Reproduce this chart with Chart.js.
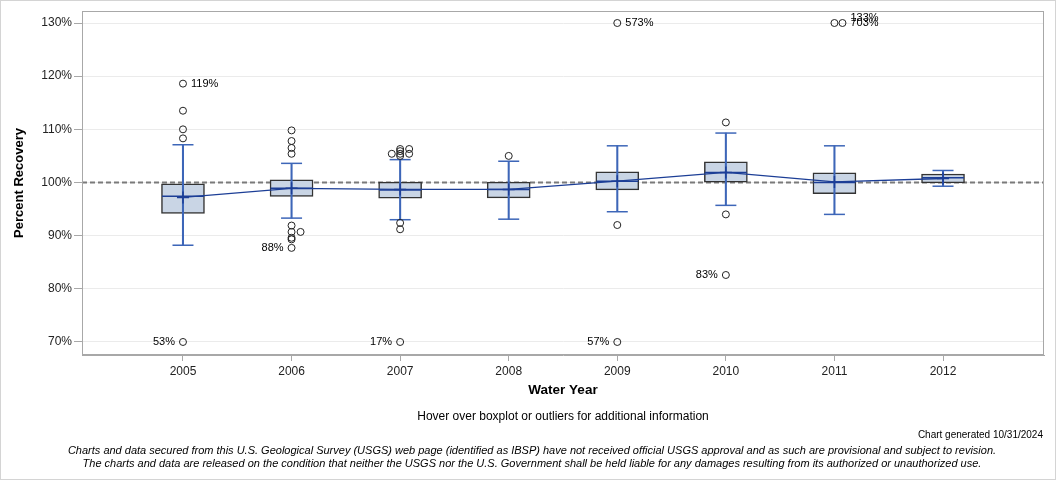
<!DOCTYPE html>
<html>
<head>
<meta charset="utf-8">
<script src="https://cdn.jsdelivr.net/npm/chart.js@4.4.1/dist/chart.umd.min.js"></script>
<style>
  body { margin: 0; background: #fff; font-family: "Liberation Sans", Arial, sans-serif; }
  #wrap { position: relative; width: 1056px; height: 480px; box-sizing: border-box; border: 1px solid #d4d4d4; }
  #chartBox { position: absolute; left: -1px; top: -1px; width: 1056px; height: 480px; }
  .txt { position: absolute; white-space: nowrap; color: #000; }
  #hover { left: 0; width: 1124px; top: 408px; text-align: center; font-size: 12px; }
  #generated { right: 12px; top: 428px; font-size: 10px; }
  #disc1, #disc2 { left: 0; width: 1062px; text-align: center; font-size: 11px; font-style: italic; }
  #disc1 { top: 443px; }
  #disc2 { top: 456px; }
</style>
</head>
<body>
<div id="wrap">
  <div id="chartBox"><canvas id="chartRecovery"></canvas></div>
  <div class="txt" id="hover">Hover over boxplot or outliers for additional information</div>
  <div class="txt" id="generated">Chart generated 10/31/2024</div>
  <div class="txt" id="disc1">Charts and data secured from this U.S. Geological Survey (USGS) web page (identified as IBSP) have not received official USGS approval and as such are provisional and subject to revision.</div>
  <div class="txt" id="disc2">The charts and data are released on the condition that neither the USGS nor the U.S. Government shall be held liable for any damages resulting from its authorized or unauthorized use.</div>
</div>
<script>
/* datos de las cajas por anio */
const years = [2005, 2006, 2007, 2008, 2009, 2010, 2011, 2012];
const q1 = [94.2, 97.4, 97.05, 97.1, 98.6, 100.06, 97.9, 99.94];
const q3 = [99.76, 100.5, 100.06, 100.06, 102.0, 103.9, 101.8, 101.6];
const medians = [97.4, 98.9, 98.6, 98.7, 100.25, 101.9, 100.0, 100.9];
const means = [97.2, 98.9, 98.7, 98.7, 100.25, 101.9, 100.1, 100.75];
const whiskerLow = [88.2, 93.3, 93.0, 93.1, 94.5, 95.7, 94.0, 99.3];
const whiskerHigh = [107.1, 103.6, 104.3, 104.0, 106.9, 109.3, 106.9, 102.26];

/* outliers: posicion x (anio), valor real, etiqueta (si/no) */
const outlierX = [
  2005, 2005, 2005, 2005, 2005,
  2006, 2006, 2006, 2006, 2006, 2006, 2006.083, 2006, 2006, 2006,
  2007, 2007, 2007, 2007, 2006.923, 2007.083, 2007.083, 2007, 2007, 2007,
  2008,
  2009, 2009, 2009,
  2010, 2010, 2010,
  2011, 2011.074,
];
const outlierValue = [
  118.6, 113.5, 110.0, 108.3, 53,
  109.8, 107.8, 106.5, 105.4, 91.9, 90.7, 90.7, 89.6, 89.3, 87.7,
  106.3, 105.9, 105.4, 105.0, 105.4, 106.3, 105.4, 92.4, 91.2, 17,
  105.0,
  92.0, 573, 57,
  111.3, 94.0, 82.6,
  133, 703,
];
const outlierLabeled = [
  true, false, false, false, true,
  false, false, false, false, false, false, false, false, false, true,
  false, false, false, false, false, false, false, false, false, true,
  false,
  false, true, true,
  false, false, true,
  true, true,
];

const yMin = 67.55;
const yMax = 132.26;
const xMin = 2004.07;
const xMax = 2012.93;
const referencia = 100;

const recortar = (v) => Math.min(130, Math.max(70, v));

const azulBigote = "#3d66b8";
const azulMedia = "#1c3e96";

/* plugin: marco del area y etiquetas de outliers */
const marcoEtiquetas = {
  id: "marcoEtiquetas",
  afterDatasetsDraw(chart) {
    const { ctx, chartArea, scales } = chart;
    ctx.save();
    ctx.strokeStyle = "#a8a8a8";
    ctx.lineWidth = 1;
    ctx.strokeRect(chartArea.left + 0.5, chartArea.top + 0.5, chartArea.width - 1, chartArea.height - 1);

    ctx.font = "11px 'Liberation Sans', Arial, sans-serif";
    ctx.fillStyle = "#000";
    ctx.textBaseline = "middle";

    // cuantas etiquetas caen en el mismo punto (anio + valor recortado)
    const total = {};
    const clave = (i) => Math.round(outlierX[i]) + "_" + recortar(outlierValue[i]);
    outlierValue.forEach((v, i) => {
      if (outlierLabeled[i]) total[clave(i)] = (total[clave(i)] || 0) + 1;
    });
    const vistos = {};

    outlierValue.forEach((v, i) => {
      if (!outlierLabeled[i]) return;
      const texto = Math.round(v) + "%";
      const anio = Math.round(outlierX[i]);
      const py = scales.y.getPixelForValue(recortar(v));
      if (v >= means[years.indexOf(anio)]) {
        const k = clave(i);
        const n = vistos[k] || 0;
        vistos[k] = n + 1;
        const xs = outlierX.filter((x, j) => Math.round(x) === anio && recortar(outlierValue[j]) === recortar(v));
        const pxUlt = scales.x.getPixelForValue(Math.max(...xs));
        ctx.textAlign = "left";
        ctx.fillText(texto, pxUlt + 8, py - (total[k] - 1 - n) * 5);
      } else {
        const px = scales.x.getPixelForValue(outlierX[i]);
        ctx.textAlign = "right";
        ctx.fillText(texto, px - 8, py);
      }
    });
    ctx.restore();
  },
};

const canvasRecovery = document.getElementById("chartRecovery");
const contextRecovery = canvasRecovery.getContext("2d");

const chartRecovery = new Chart(contextRecovery, {
  type: "bar",
  data: {
    datasets: [
      {
        type: "line",
        label: "100%",
        data: [{ x: xMin, y: referencia }, { x: xMax, y: referencia }],
        borderColor: "#7a7a7a",
        borderWidth: 2,
        borderDash: [5, 3],
        pointRadius: 0,
        order: 9,
      },
      {
        type: "bar",
        label: "Caja",
        data: years.map((y, i) => ({ x: y, y: [q1[i], q3[i]] })),
        backgroundColor: "#c9d5e5",
        borderColor: "#333333",
        borderWidth: 1.5,
        borderSkipped: false,
        barThickness: 43,
        grouped: false,
        order: 8,
      },
      {
        type: "bar",
        label: "Bigote",
        data: years.map((y, i) => ({ x: y, y: [whiskerLow[i], whiskerHigh[i]] })),
        backgroundColor: azulBigote,
        borderWidth: 0,
        barThickness: 1.4,
        grouped: false,
        order: 7,
      },
      {
        type: "scatter",
        label: "Extremos",
        data: years.map((y, i) => ({ x: y, y: whiskerLow[i] })).concat(years.map((y, i) => ({ x: y, y: whiskerHigh[i] }))),
        pointStyle: "line",
        pointRadius: 10.5,
        borderColor: azulBigote,
        borderWidth: 1.5,
        order: 6,
      },
      {
        type: "scatter",
        label: "Mediana",
        data: years.map((y, i) => ({ x: y, y: medians[i] })),
        pointStyle: "line",
        pointRadius: 21,
        borderColor: azulMedia,
        borderWidth: 1.5,
        order: 5,
      },
      {
        type: "line",
        label: "Media",
        data: years.map((y, i) => ({ x: y, y: means[i] })),
        borderColor: azulMedia,
        borderWidth: 1.3,
        pointStyle: "cross",
        pointRadius: 6,
        pointBorderColor: azulMedia,
        pointBorderWidth: 1.5,
        order: 4,
      },
      {
        type: "scatter",
        label: "Outliers",
        data: outlierValue.map((v, i) => ({ x: outlierX[i], y: recortar(v) })),
        pointStyle: "circle",
        pointRadius: 3.5,
        backgroundColor: "rgba(0,0,0,0)",
        borderColor: "#222222",
        borderWidth: 1,
        order: 3,
      },
    ],
  },
  options: {
    responsive: true,
    maintainAspectRatio: false,
    animation: false,
    layout: { autoPadding: false, padding: { top: 11, right: 12, left: 0, bottom: 80 } },
    plugins: {
      legend: { display: false },
      tooltip: { enabled: true },
    },
    scales: {
      x: {
        type: "linear",
        offset: false,
        min: xMin,
        max: xMax,
        afterFit: (scale) => {
          scale.height = 45;
          scale.paddingLeft = 0;
          scale.paddingRight = 0;
        },
        ticks: {
          stepSize: 1,
          includeBounds: false,
          color: "#222",
          font: { family: "'Liberation Sans', Arial, sans-serif", size: 12 },
          padding: 3,
          callback: (v) => String(v),
        },
        grid: { drawOnChartArea: false, drawTicks: true, tickLength: 6, tickColor: "#a8a8a8", offset: false },
        border: { display: true, color: "#a8a8a8" },
        title: {
          display: true,
          text: "Water Year",
          color: "#000",
          font: { family: "'Liberation Sans', Arial, sans-serif", size: 13.5, weight: "bold" },
          padding: { top: 0, bottom: 2 },
        },
      },
      y: {
        min: yMin,
        max: yMax,
        afterFit: (scale) => {
          scale.width = 82;
          scale.paddingTop = 0;
          scale.paddingBottom = 0;
        },
        ticks: {
          stepSize: 10,
          includeBounds: false,
          color: "#222",
          font: { family: "'Liberation Sans', Arial, sans-serif", size: 12 },
          padding: 2,
          callback: (v) => v + "%",
        },
        grid: { color: "#ebebeb", lineWidth: 1, tickLength: 8, tickColor: "#a8a8a8" },
        border: { display: true, color: "#a8a8a8" },
        title: {
          display: true,
          text: "Percent Recovery",
          color: "#000",
          font: { family: "'Liberation Sans', Arial, sans-serif", size: 13, weight: "bold" },
          padding: { top: 12, bottom: 0 },
        },
      },
    },
  },
  plugins: [marcoEtiquetas],
});
</script>
</body>
</html>
